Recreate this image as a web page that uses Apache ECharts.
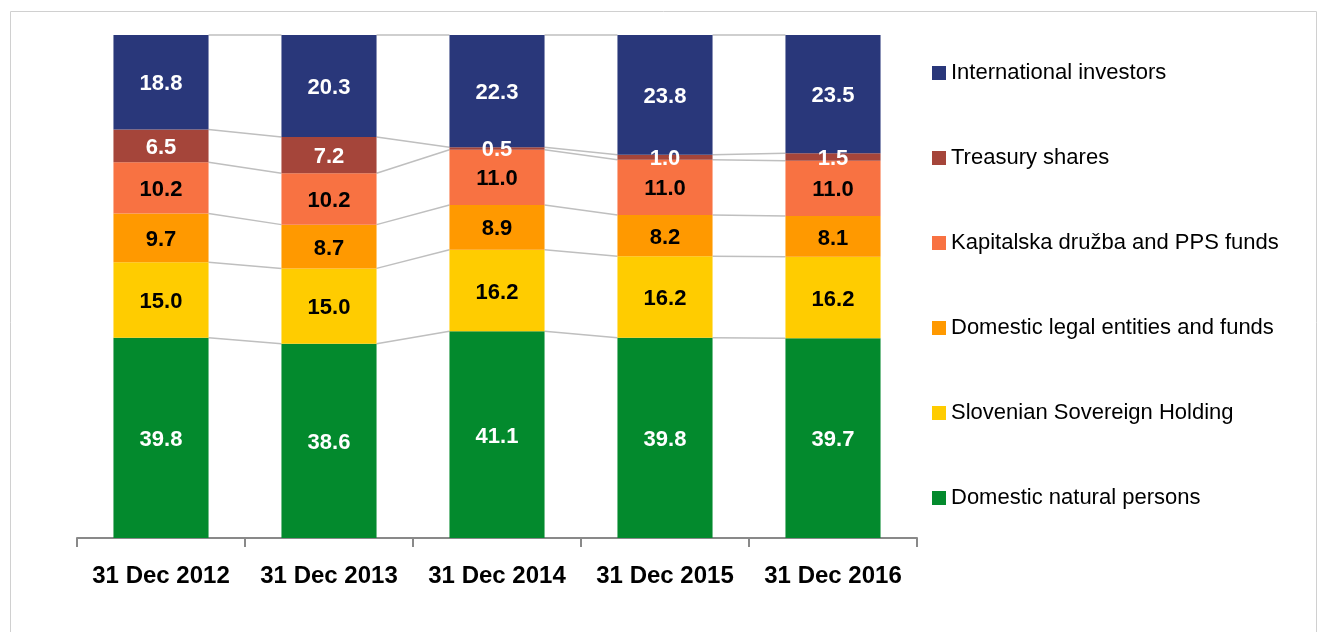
<!DOCTYPE html>
<html>
<head>
<meta charset="utf-8">
<script src="https://cdn.jsdelivr.net/npm/echarts@6/dist/echarts.min.js"></script>
<style>
  html, body { margin: 0; padding: 0; background: #fff; }
  #chart { width: 1319px; height: 632px; }
</style>
</head>
<body>
<div id="chart"></div>
<script>
// categories
const categories = ['31 Dec 2012', '31 Dec 2013', '31 Dec 2014', '31 Dec 2015', '31 Dec 2016']

// shares in %, bottom to top
const naturalPersons = [39.8, 38.6, 41.1, 39.8, 39.7]
const sovereignHolding = [15.0, 15.0, 16.2, 16.2, 16.2]
const legalEntities = [9.7, 8.7, 8.9, 8.2, 8.1]
const kadPps = [10.2, 10.2, 11.0, 11.0, 11.0]
const treasuryShares = [6.5, 7.2, 0.5, 1.0, 1.5]
const internationalInvestors = [18.8, 20.3, 22.3, 23.8, 23.5]

const seriesDefs = [
  { name: 'Domestic natural persons', data: naturalPersons, color: '#038A2D', label: '#fff' },
  { name: 'Slovenian Sovereign Holding', data: sovereignHolding, color: '#FFCC00', label: '#000' },
  { name: 'Domestic legal entities and funds', data: legalEntities, color: '#FF9900', label: '#000' },
  { name: 'Kapitalska družba and PPS funds', data: kadPps, color: '#F87242', label: '#000' },
  { name: 'Treasury shares', data: treasuryShares, color: '#A5453A', label: '#fff' },
  { name: 'International investors', data: internationalInvestors, color: '#29377A', label: '#fff' }
]

const FONT = "'Liberation Sans Narrow', 'Arial Narrow', 'Liberation Sans', sans-serif"
const BAR_RATIO = 0.566

// cumulative boundaries for the connector lines
const boundaries = categories.map((c, i) => {
  let sum = 0
  return seriesDefs.map(s => { sum += s.data[i]; return sum })
})
const connectorData = categories.slice(0, -1).map((c, i) => [i].concat(boundaries[i], boundaries[i + 1]))

const chart = echarts.init(document.getElementById('chart'))

const series = seriesDefs.map(s => ({
  name: s.name,
  type: 'bar',
  stack: 'total',
  barWidth: (BAR_RATIO * 100) + '%',
  data: s.data,
  itemStyle: { color: s.color },
  label: {
    show: true,
    position: 'inside',
    color: s.label,
    fontFamily: FONT,
    fontWeight: 'bold',
    fontSize: 22,
    offset: [0, 2],
    formatter: p => p.value.toFixed(1)
  },
  emphasis: { disabled: true },
  z: 3
}))

// gray lines joining the segment edges of neighbouring bars
series.push({
  type: 'custom',
  data: connectorData,
  silent: true,
  z: 2,
  renderItem: (params, api) => {
    const i = api.value(0)
    const n = seriesDefs.length
    const half = api.size([1, 0])[0] * BAR_RATIO / 2
    const children = []
    for (let k = 0; k < n; k++) {
      const a = api.coord([i, api.value(1 + k)])
      const b = api.coord([i + 1, api.value(1 + n + k)])
      children.push({
        type: 'line',
        shape: { x1: a[0] + half, y1: a[1], x2: b[0] - half, y2: b[1] },
        style: { stroke: '#BFBFBF', lineWidth: 1.5 }
      })
    }
    return { type: 'group', children }
  }
})

const option = {
  animation: false,
  graphic: [{
    type: 'rect',
    shape: { x: 10.5, y: 11.5, width: 1306, height: 640 },
    style: { fill: 'none', stroke: '#D0D0D0', lineWidth: 1 },
    silent: true
  }],
  grid: { left: 77, right: 402, top: 35, bottom: 94 },
  legend: {
    orient: 'vertical',
    left: 927,
    top: 62,
    padding: [0, 5],
    itemWidth: 14,
    itemHeight: 14,
    itemGap: 63,
    icon: 'rect',
    data: seriesDefs.map(s => s.name).reverse(),
    textStyle: { fontFamily: FONT, fontSize: 22, color: '#000' }
  },
  xAxis: {
    type: 'category',
    data: categories,
    axisLine: { lineStyle: { color: '#898989', width: 2 } },
    axisTick: { show: true, interval: 0, length: 9, lineStyle: { color: '#898989', width: 2 } },
    axisLabel: { interval: 0, fontFamily: FONT, fontWeight: 'bold', fontSize: 24, color: '#000', margin: 26 }
  },
  yAxis: {
    type: 'value',
    min: 0,
    max: 100,
    show: false,
    splitLine: { show: false }
  },
  series
}

chart.setOption(option)

window.addEventListener('resize', () => { chart.resize() })
</script>
</body>
</html>
